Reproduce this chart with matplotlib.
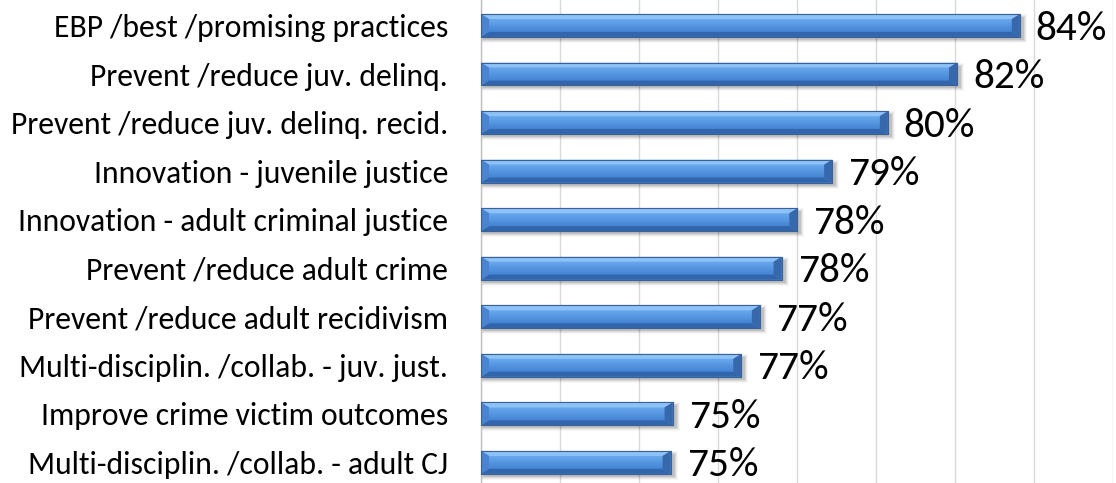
import matplotlib
matplotlib.use("Agg")
import matplotlib.pyplot as plt
from matplotlib import font_manager
from matplotlib.patches import Polygon, Rectangle
import numpy as np

# ---------------- data ----------------
categories = [
    "EBP /best /promising practices",
    "Prevent /reduce juv. delinq.",
    "Prevent /reduce juv. delinq. recid.",
    "Innovation - juvenile justice",
    "Innovation - adult criminal justice",
    "Prevent /reduce adult crime",
    "Prevent /reduce adult recidivism",
    "Multi-disciplin. /collab. - juv. just.",
    "Improve crime victim outcomes",
    "Multi-disciplin. /collab. - adult CJ",
]
values = [83.64, 82.05, 80.30, 78.89, 78.01, 77.61, 77.06, 76.59, 74.85, 74.80]
x_min, x_max, x_step = 70, 86, 2

# ---------------- fonts ----------------
available = {f.name for f in font_manager.fontManager.ttflist}
family = next(f for f in ["Carlito", "Lato", "Open Sans", "DejaVu Sans"] if f in available)
fam = [family, "DejaVu Sans"]

W, H, DPI = 1116, 483, 100
fig = plt.figure(figsize=(W / DPI, H / DPI), dpi=DPI)
fig.patch.set_facecolor("white")
renderer = fig.canvas.get_renderer()


def fit_size(text, target_px, base=20.0):
    t = fig.text(0, 0, text, fontsize=base, family=fam)
    w = t.get_window_extent(renderer).width
    t.remove()
    return base * target_px / w


cat_fs = fit_size("Prevent /reduce juv. delinq. recid.", 438)
val_fs = fit_size("84%", 71)

ax_left_px, ax_right_px = 481, 1113
ax = fig.add_axes([ax_left_px / W, 0, (ax_right_px - ax_left_px) / W, 1])
n = len(categories)
row_top_px, row_bot_px = 25.5, 462.4
sp = (row_bot_px - row_top_px) / (n - 1)
ax.set_xlim(x_min, x_max)
ax.set_ylim(n - 1 + (H - row_bot_px) / sp, -row_top_px / sp)

# grid
ax.set_xticks(np.arange(x_min, x_max + 0.1, x_step))
ax.grid(axis="x", color="#D9D9D9", lw=1.0, zorder=0)
ax.set_axisbelow(True)
ax.tick_params(axis="x", length=0, labelbottom=False)
for s in ["top", "right", "bottom"]:
    ax.spines[s].set_visible(False)
ax.spines["left"].set_color("#BFBFBF")
ax.spines["left"].set_linewidth(1.0)

# category labels
ax.set_yticks(range(n))
ax.set_yticklabels(categories, fontsize=cat_fs, family=fam, color="black")
ax.tick_params(axis="y", length=0, pad=(ax_left_px - 448) * 72 / DPI)

# bars
bar_h = 0.47
widths = [v - x_min for v in values]
bars = ax.barh(range(n), widths, left=x_min, height=bar_h, color="#4F8EDC",
               edgecolor="#3A6296", lw=0.8, zorder=3)

px_x = (ax_right_px - ax_left_px) / (x_max - x_min)
px_y = sp
bx = 8 / px_x
by = 5 / px_y

top_col = np.array(matplotlib.colors.to_rgb("#8EC2F6"))
mid_top = np.array(matplotlib.colors.to_rgb("#66A6EC"))
mid_bot = np.array(matplotlib.colors.to_rgb("#4584D3"))

for i, bar in enumerate(bars):
    x0 = bar.get_x()
    x1 = x0 + bar.get_width()
    yt = bar.get_y()            # visually top (y axis inverted)
    yb = yt + bar.get_height()  # visually bottom
    # soft shadow
    for k, a in enumerate([0.10, 0.07, 0.05, 0.03]):
        ax.add_patch(Rectangle((x0 + (2 - k) / px_x, yt + (3 - k) / px_y),
                               (x1 - x0) + (2 + 2 * k) / px_x,
                               (yb - yt) + (2 * k) / px_y,
                               facecolor="#000000", alpha=a, lw=0, zorder=2))
    # centre gradient
    ns = 14
    edges = np.linspace(yt + by, yb - by, ns + 1)
    for j in range(ns):
        f = j / (ns - 1)
        c = mid_top * (1 - f) + mid_bot * f
        ax.add_patch(Rectangle((x0 + bx, edges[j]), (x1 - x0) - 2 * bx,
                               edges[j + 1] - edges[j], facecolor=c, lw=0, zorder=4))
    # bevels
    ax.add_patch(Polygon([(x0, yt), (x1, yt), (x1 - bx, yt + by), (x0 + bx, yt + by)],
                         closed=True, facecolor=top_col, lw=0, zorder=4))
    ax.add_patch(Polygon([(x0, yb), (x1, yb), (x1 - bx, yb - by), (x0 + bx, yb - by)],
                         closed=True, facecolor="#3266AC", lw=0, zorder=4))
    ax.add_patch(Polygon([(x0, yt), (x0 + bx, yt + by), (x0 + bx, yb - by), (x0, yb)],
                         closed=True, facecolor="#4A84D0", lw=0, zorder=4))
    ax.add_patch(Polygon([(x1, yt), (x1 - bx, yt + by), (x1 - bx, yb - by), (x1, yb)],
                         closed=True, facecolor="#3868AC", lw=0, zorder=4))
    # outline
    ax.add_patch(Rectangle((x0, yt), x1 - x0, yb - yt, facecolor="none",
                           edgecolor="#3A6296", lw=0.8, zorder=5))
    # value label
    ax.annotate(f"{values[i]:.0f}%", xy=(x1, bar.get_y() + bar.get_height() / 2),
                xytext=(16 * 72 / DPI, -3 * 72 / DPI), textcoords="offset points",
                ha="left", va="center", fontsize=val_fs, family=fam,
                color="black", zorder=6)

fig.savefig("out.png", dpi=DPI, facecolor="white")
